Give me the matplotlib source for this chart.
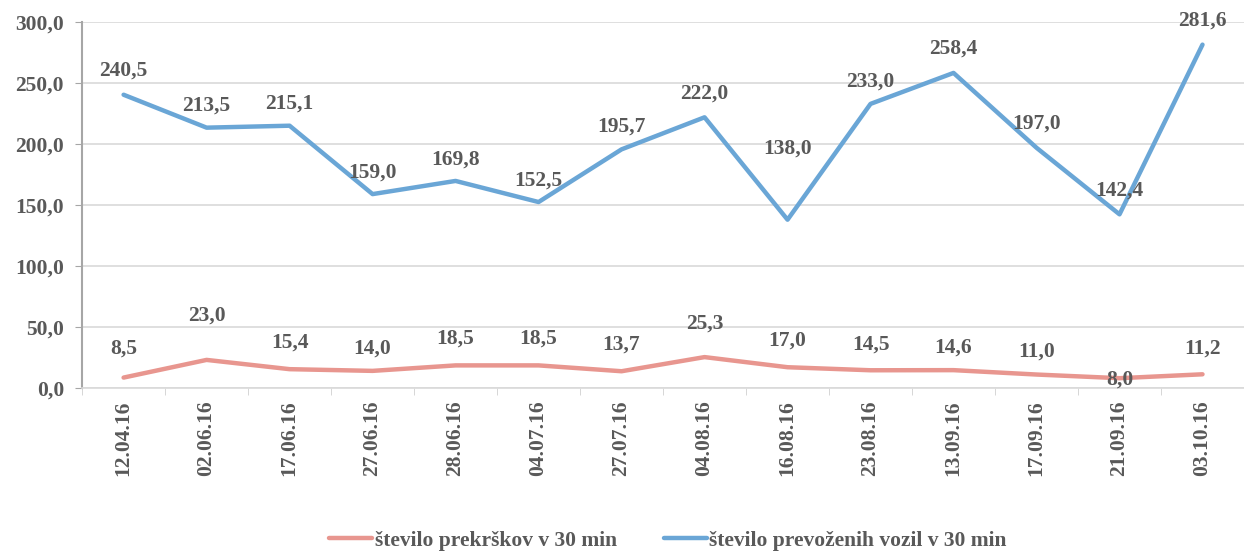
import matplotlib
matplotlib.use("Agg")
import matplotlib.pyplot as plt
from matplotlib.ticker import FuncFormatter, FixedLocator

dates = ["12.04.16", "02.06.16", "17.06.16", "27.06.16", "28.06.16", "04.07.16", "27.07.16",
         "04.08.16", "16.08.16", "23.08.16", "13.09.16", "17.09.16", "21.09.16", "03.10.16"]
prekrski = [8.5, 23.0, 15.4, 14.0, 18.5, 18.5, 13.7, 25.3, 17.0, 14.5, 14.6, 11.0, 8.0, 11.2]
vozila = [240.5, 213.5, 215.1, 159.0, 169.8, 152.5, 195.7, 222.0, 138.0, 233.0, 258.4, 197.0, 142.4, 281.6]
label_red = "število prekrškov v 30 min"
label_blue = "število prevoženih vozil v 30 min"

TXT = "#595959"
FONT = "Liberation Serif"
FS = 15.5
plt.rcParams['font.family'] = [FONT, 'DejaVu Serif']
plt.rcParams['font.weight'] = 'bold'

fig = plt.figure(figsize=(12.44, 5.55), dpi=100)
ax = fig.add_axes([0.066, 0.301, 0.934, 0.659])

x = list(range(len(dates)))
ax.plot(x, prekrski, color="#E8968F", lw=3.2, label=label_red, solid_capstyle="round")
ax.plot(x, vozila, color="#6AA6D6", lw=3.2, label=label_blue, solid_capstyle="round")

def fmt(v):
    return f"{v:.1f}".replace(".", ",")

red_off = [14, 25, 12, 9, 12, 12, 12, 17, 12, 11, 9, 9, -8, 11]
blue_off = [10, 9, 9, 8, 8, 8, 9, 10, 44, 9, 10, 10, 10, 10]
for xi, v, o in zip(x, prekrski, red_off):
    ax.annotate(fmt(v), (xi, v), xytext=(0, o), textcoords="offset points",
                ha="center", va="bottom", fontsize=FS, color=TXT, fontweight="bold")
for xi, v, o in zip(x, vozila, blue_off):
    ax.annotate(fmt(v), (xi, v), xytext=(0, o), textcoords="offset points",
                ha="center", va="bottom", fontsize=FS, color=TXT, fontweight="bold")

ax.set_xlim(-0.5, len(dates) - 0.5)
ax.set_ylim(0, 300)
ax.set_yticks([0, 50, 100, 150, 200, 250, 300])
ax.yaxis.set_major_formatter(FuncFormatter(lambda v, p: fmt(v)))
ax.set_xticks(x)
ax.set_xticklabels(dates, rotation=90)
ax.xaxis.set_minor_locator(FixedLocator([i + 0.5 for i in range(-1, len(dates))]))
ax.tick_params(axis="x", which="major", length=0, pad=9)
ax.tick_params(axis="x", which="minor", length=5, color="#D0D0D0")
ax.tick_params(axis="y", length=5, color="#A6A6A6", pad=8)
for lab in ax.get_xticklabels() + ax.get_yticklabels():
    lab.set_fontsize(FS)
    lab.set_color(TXT)
    lab.set_fontweight("bold")

ax.grid(axis="y", color="#D9D9D9", lw=1.2)
ax.set_axisbelow(True)
for s in ["top", "right"]:
    ax.spines[s].set_visible(False)
ax.spines["left"].set_color("#A6A6A6")
ax.spines["left"].set_linewidth(1.5)
ax.spines["bottom"].set_color("#D9D9D9")
ax.spines["bottom"].set_linewidth(1.2)

leg = fig.legend(loc="lower center", bbox_to_anchor=(0.537, -0.027), ncol=2, frameon=False,
                 fontsize=FS, handlelength=2.0, columnspacing=2.2, handletextpad=0.1)
for t in leg.get_texts():
    t.set_color(TXT)
    t.set_fontweight("bold")

fig.savefig("out.png", dpi=100)
